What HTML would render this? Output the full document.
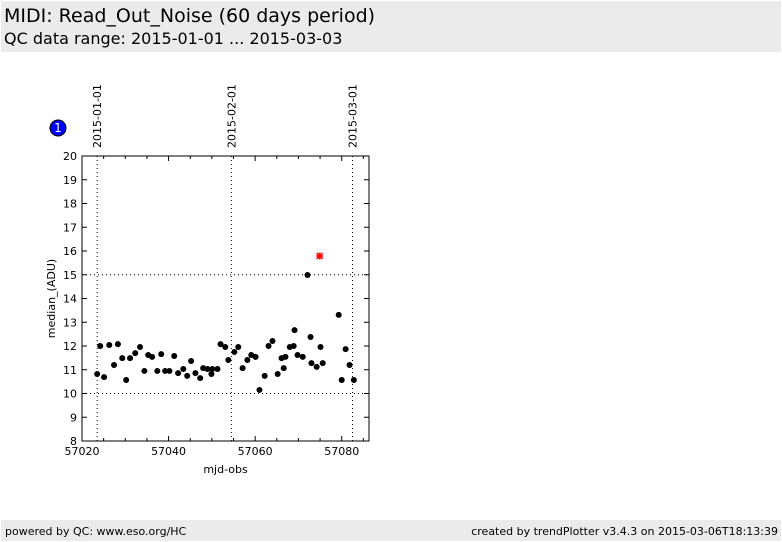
<!DOCTYPE html>
<html><head><meta charset="utf-8"><style>
body{margin:0;width:782px;height:542px;background:#fff;font-family:"DejaVu Sans","Liberation Sans",sans-serif;position:relative;overflow:hidden}
.hdr{position:absolute;left:1px;top:1px;width:780px;height:51px;background:#ebebeb}
.ftr{position:absolute;left:1px;top:520px;width:780px;height:21px;background:#ebebeb;font-size:11px}
</style></head><body>
<div class="hdr">
<div style="position:absolute;left:3px;top:4px;font-size:19px">MIDI: Read_Out_Noise (60 days period)</div>
<div style="position:absolute;left:3px;top:28px;font-size:16px">QC data range: 2015-01-01 ... 2015-03-03</div>
</div>
<div class="ftr">
<span style="position:absolute;left:4px;top:5px">powered by QC: www.eso.org/HC</span>
<span style="position:absolute;right:3px;top:5px">created by trendPlotter v3.4.3 on 2015-03-06T18:13:39</span>
</div>
<svg id="chart" width="782" height="542" style="position:absolute;left:0;top:0"></svg>
<script>
const mjd=[57023.5,57024.2,57025.1,57026.3,57027.4,57028.3,57029.3,57030.2,57031.1,57032.3,57033.4,57034.4,57035.3,57036.2,57037.4,57038.3,57039.2,57040.2,57041.3,57042.2,57043.4,57044.3,57045.2,57046.2,57047.3,57048.0,57049.0,57049.9,57050.1,57051.3,57052.0,57053.1,57053.8,57055.2,57056.1,57057.1,57058.2,57059.1,57060.1,57061.0,57062.2,57063.1,57064.0,57065.2,57066.1,57066.6,57067.0,57068.0,57068.9,57069.1,57069.8,57071.0,57072.1,57072.8,57073.0,57074.2,57075.1,57075.6,57079.3,57080.0,57080.9,57081.8,57082.8];
const median=[10.82,12.0,10.69,12.04,11.2,12.08,11.49,10.57,11.49,11.7,11.96,10.95,11.62,11.54,10.95,11.66,10.95,10.95,11.58,10.86,11.03,10.74,11.37,10.86,10.65,11.07,11.03,10.82,11.03,11.03,12.08,11.96,11.41,11.75,11.96,11.07,11.41,11.62,11.54,10.15,10.74,12.0,12.21,10.82,11.49,11.07,11.54,11.96,12.0,12.67,11.62,11.54,14.99,12.38,11.28,11.12,11.96,11.28,13.31,10.57,11.87,11.2,10.57];
const outlierX=[57074.9];
const outlierY=[15.79];
const xTicks=[57020,57040,57060,57080];
const yTicks=[8,9,10,11,12,13,14,15,16,17,18,19,20];
const dateX=[57023.5,57054.5,57082.5];
const dateLabels=["2015-01-01","2015-02-01","2015-03-01"];
const hLines=[10,15];
const L=82,R=369,T=156,B=441,X0=57020,X1=57086.3,Y0=8,Y1=20;
const sx=v=>L+(v-X0)/(X1-X0)*(R-L);
const sy=v=>B-(v-Y0)/(Y1-Y0)*(B-T);
const svg=document.getElementById('chart');const NS='http://www.w3.org/2000/svg';
function mk(t,a,p){const e=document.createElementNS(NS,t);for(const k in a)e.setAttribute(k,a[k]);(p||svg).appendChild(e);return e;}
let e;
e=mk('rect',{x:L,y:T,width:R-L,height:B-T,fill:'#fff',stroke:'#000','stroke-width':1});


hLines.forEach(v=>{e=mk('line',{x1:L,x2:R,y1:sy(v),y2:sy(v),stroke:'#000','stroke-dasharray':'1,3'});

});
dateX.forEach((v,i)=>{e=mk('line',{x1:sx(v),x2:sx(v),y1:T,y2:B,stroke:'#000','stroke-dasharray':'1,3'});


e=mk('text',{x:0,y:0,'font-size':11,transform:`translate(${sx(v)+4},${T-8}) rotate(-90)`,'font-family':'DejaVu Sans, sans-serif'});e.textContent=dateLabels[i];

});
yTicks.forEach(v=>{const y=sy(v);mk('line',{x1:L,x2:L+5,y1:y,y2:y,stroke:'#000'});mk('line',{x1:R-5,x2:R,y1:y,y2:y,stroke:'#000'});
e=mk('text',{x:L-5,y:y+4,'font-size':11,'text-anchor':'end'});e.textContent=v;

});
for(let v=X0;v<=X1;v+=5){const x=sx(v);const len=(v%20===0)?5:3;mk('line',{x1:x,x2:x,y1:B,y2:B-len,stroke:'#000'});mk('line',{x1:x,x2:x,y1:T,y2:T+len,stroke:'#000'});}
xTicks.forEach(v=>{e=mk('text',{x:sx(v),y:B+14,'font-size':11,'text-anchor':'middle'});e.textContent=v;

});
e=mk('text',{x:(L+R)/2,y:B+32,'font-size':11,'text-anchor':'middle'});e.textContent='mjd-obs';


e=mk('text',{x:0,y:0,'font-size':11,'text-anchor':'middle',transform:`translate(55,${(T+B)/2}) rotate(-90)`});e.textContent='median_(ADU)';


mjd.forEach((v,i)=>{e=mk('circle',{cx:sx(v),cy:sy(median[i]),r:3,fill:'#000'});

});
outlierX.forEach((v,i)=>{const x=sx(v),y=sy(outlierY[i]);const g=mk('g',{stroke:'#f00','stroke-width':1.6});


mk('line',{x1:x-3,x2:x+3,y1:y-3,y2:y+3},g);mk('line',{x1:x-3,x2:x+3,y1:y+3,y2:y-3},g);mk('line',{x1:x-3.5,x2:x+3.5,y1:y,y2:y},g);mk('line',{x1:x,x2:x,y1:y-3.5,y2:y+3.5},g);});
e=mk('circle',{cx:58,cy:128,r:8,fill:'#0000ff',stroke:'#000'});


e=mk('text',{x:58,y:132,'font-size':12,'text-anchor':'middle',fill:'#fff'});e.textContent='1';


</script>
</body></html>
